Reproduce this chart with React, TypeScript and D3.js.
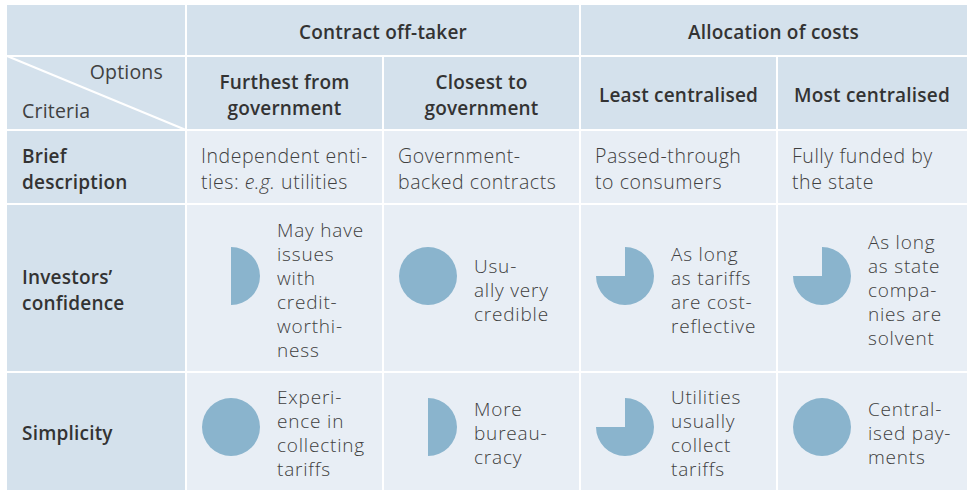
import React from 'react';
import * as d3 from 'd3';

// table content
const groups = ['Contract off-taker', 'Allocation of costs'];
const groupSpans = [2, 2];
const options = [['Furthest from', 'government'], ['Closest to', 'government'], ['Least centralised'], ['Most centralised']];
const criteria = [['Brief', 'description'], ['Investors’', 'confidence'], ['Simplicity']];
const descriptions = [
  ['Independent enti-', 'ties: *e.g.* utilities'],
  ['Government-', 'backed contracts'],
  ['Passed-through', 'to consumers'],
  ['Fully funded by', 'the state'],
];
const confidenceScores = [0.5, 1, 0.75, 0.75];
const confidenceNotes = [
  ['May have', 'issues', 'with', 'credit-', 'worthi-', 'ness'],
  ['Usu-', 'ally very', 'credible'],
  ['As long', 'as tariffs', 'are cost-', 'reflective'],
  ['As long', 'as state', 'compa-', 'nies are', 'solvent'],
];
const simplicityScores = [1, 0.5, 0.75, 1];
const simplicityNotes = [
  ['Experi-', 'ence in', 'collecting', 'tariffs'],
  ['More', 'bureau-', 'cracy'],
  ['Utilities', 'usually', 'collect', 'tariffs'],
  ['Central-', 'ised pay-', 'ments'],
];

const W = 967;
const H = 490;
const colEdges = [7, 186, 383, 580, 777, 967];
const rowEdges = [5, 56, 130, 204, 372, 490];
const GAP = 2;
const headBg = '#d4e1ec';
const bodyBg = '#e8eef5';
const pieFill = '#8ab4cd';
const ink = '#404040';
const headInk = '#333';
const font = '"Open Sans", Lato, sans-serif';
const pieR = 29;
const pieOffsets = [-12, -4];

const arc = d3.arc<{ score: number }>()
  .innerRadius(0)
  .outerRadius(pieR)
  .startAngle(0)
  .endAngle(d => d.score * 2 * Math.PI);

// lines with *...* become italic
const Lines = ({ lines, x, cy, anchor = 'start', weight = 300, size = 19.5, lh = 24, ls = 0.55, fill = ink }: any) => {
  const y0 = cy - ((lines.length - 1) * lh) / 2;
  return (
    <text x={x} y={y0} textAnchor={anchor} dominantBaseline="central" fontFamily={font}
      fontWeight={weight} fontSize={size} fill={fill} letterSpacing={ls}>
      {lines.map((ln: string, i: number) => (
        <tspan key={i} x={x} y={y0 + i * lh}>
          {ln.split('*').map((seg, j) => (
            <tspan key={j} fontStyle={j % 2 ? 'italic' : 'normal'}>{seg}</tspan>
          ))}
        </tspan>
      ))}
    </text>
  );
};

const App = () => {
  const x = (c: number) => colEdges[c];
  const y = (r: number) => rowEdges[r];
  const cellW = (c: number) => colEdges[c + 1] - colEdges[c];
  const cellH = (r: number) => rowEdges[r + 1] - rowEdges[r];
  const midY = (r: number) => (rowEdges[r] + rowEdges[r + 1]) / 2;
  const midX = (c: number) => (colEdges[c] + colEdges[c + 1]) / 2;

  const rects: JSX.Element[] = [];
  // header rows
  rects.push(<rect key="corner0" x={x(0)} y={y(0)} width={cellW(0) - GAP / 2} height={cellH(0) - GAP / 2} fill={headBg} />);
  let c0 = 1;
  groups.forEach((g, i) => {
    const c1 = c0 + groupSpans[i];
    const gx = x(c0) + GAP / 2;
    const gw = colEdges[c1] - colEdges[c0] - (c1 === 5 ? GAP / 2 : GAP);
    rects.push(<rect key={'g' + i} x={gx} y={y(0)} width={gw} height={cellH(0) - GAP / 2} fill={headBg} />);
    c0 = c1;
  });
  for (let r = 1; r < 5; r++) {
    for (let c = 0; c < 5; c++) {
      const x0 = x(c) + (c === 0 ? 0 : GAP / 2);
      const x1 = x(c + 1) - (c === 4 ? 0 : GAP / 2);
      const y0 = y(r) + GAP / 2;
      const y1 = y(r + 1) - (r === 4 ? 0 : GAP / 2);
      const bg = r === 1 || c === 0 ? headBg : bodyBg;
      rects.push(<rect key={`c${r}-${c}`} x={x0} y={y0} width={x1 - x0} height={y1 - y0} fill={bg} />);
    }
  }

  const scoreRows = [
    { scores: confidenceScores, notes: confidenceNotes, row: 3 },
    { scores: simplicityScores, notes: simplicityNotes, row: 4 },
  ];

  return (
    <svg width={W} height={H} style={{ position: 'absolute', left: 0, top: 0, background: '#fff' }}>
      {rects}
      <line x1={x(0)} y1={y(1)} x2={x(1)} y2={y(2)} stroke="#fff" strokeWidth={2} />
      {/* group titles */}
      {(() => {
        let c = 1;
        return groups.map((g, i) => {
          const cx = (colEdges[c] + colEdges[c + groupSpans[i]]) / 2;
          c += groupSpans[i];
          return <Lines key={'gt' + i} lines={[g]} x={cx} cy={midY(0) + 1} anchor="middle" weight={600} size={19} ls={0.2} fill={headInk} />;
        });
      })()}
      <Lines lines={['Options']} x={163} cy={71} anchor="end" weight={400} size={19.5} ls={0.2} />
      <Lines lines={['Criteria']} x={22} cy={110} weight={400} size={19.5} ls={0.2} />
      {options.map((o, i) => (
        <Lines key={'o' + i} lines={o} x={midX(i + 1)} cy={midY(1) + 2} anchor="middle" weight={600} size={19} lh={26} ls={0.2} fill={headInk} />
      ))}
      {criteria.map((cr, i) => (
        <Lines key={'cr' + i} lines={cr} x={x(0) + 15} cy={midY(i + 2) + 2} weight={600} size={19} lh={26} ls={0.2} fill={headInk} />
      ))}
      {descriptions.map((d, i) => (
        <Lines key={'d' + i} lines={d} x={x(i + 1) + 15} cy={midY(2) + 1} lh={26} />
      ))}
      {scoreRows.map((sr, k) => (
        <g key={'sr' + k}>
          {sr.scores.map((s, i) => (
            <g key={i}>
              <path d={arc({ score: s }) || ''} fill={pieFill}
                transform={`translate(${x(i + 1) + 45},${midY(sr.row) + pieOffsets[k]})`} />
              <Lines lines={sr.notes[i]} x={x(i + 1) + 91} cy={midY(sr.row) + 2} size={19} ls={0.8} />
            </g>
          ))}
        </g>
      ))}
    </svg>
  );
};

export default App;
